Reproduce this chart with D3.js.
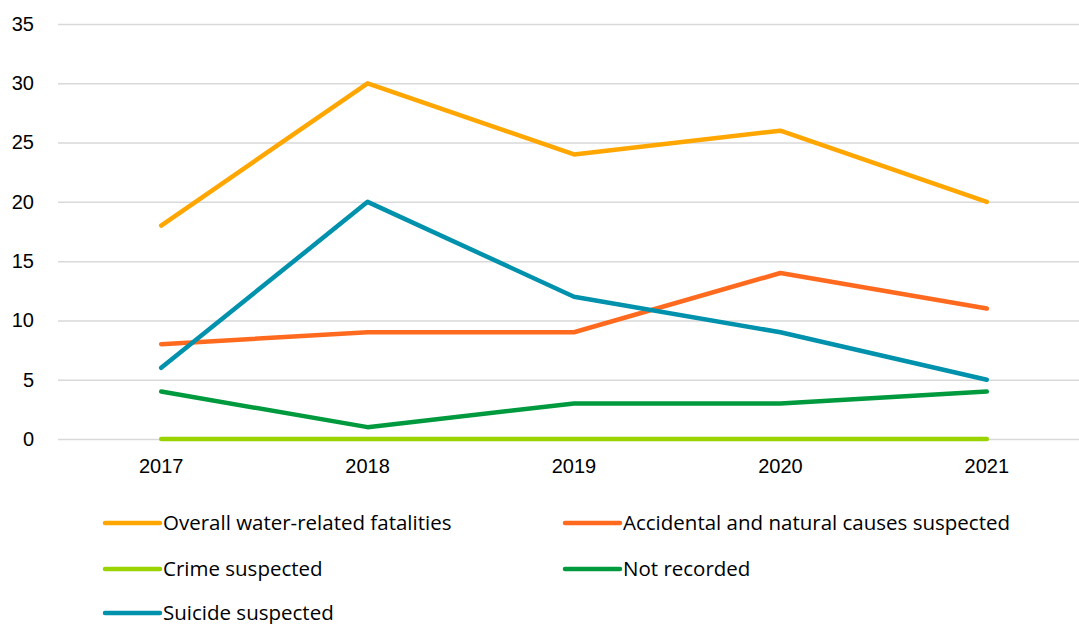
<!DOCTYPE html>
<html>
<head>
<meta charset="utf-8">
<script src="https://cdn.jsdelivr.net/npm/d3@7"></script>
<style>
  body { margin: 0; background: #fff; }
  svg { display: block; font-family: "Open Sans", "Liberation Sans", Arial, sans-serif; }
</style>
</head>
<body>
<script>
const years = ['2017', '2018', '2019', '2020', '2021'];
const overall = [18, 30, 24, 26, 20];
const accidental = [8, 9, 9, 14, 11];
const crime = [0, 0, 0, 0, 0];
const notRecorded = [4, 1, 3, 3, 4];
const suicide = [6, 20, 12, 9, 5];
const yTicks = [0, 5, 10, 15, 20, 25, 30, 35];

const series = [
  { name: 'Overall water-related fatalities', values: overall, color: '#FFA600' },
  { name: 'Accidental and natural causes suspected', values: accidental, color: '#FF6A1F' },
  { name: 'Crime suspected', values: crime, color: '#99D300' },
  { name: 'Not recorded', values: notRecorded, color: '#009A3E' },
  { name: 'Suicide suspected', values: suicide, color: '#0091AD' }
];

const w = 1079, h = 624;
const svg = d3.select('body').append('svg').attr('width', w).attr('height', h);

const x = d3.scaleBand().domain(years).range([58, 1090]);
const y = d3.scaleLinear().domain([0, 35]).range([439, 24]);

// gridlines + y labels
const yAxis = d3.axisLeft(y).tickValues(yTicks).tickSize(-(w - 58)).tickPadding(24);
svg.append('g').attr('transform', 'translate(58,0)').call(yAxis)
  .call(g => g.select('.domain').remove())
  .call(g => g.selectAll('line').attr('stroke', '#d9d9d9').attr('stroke-width', 1.5))
  .call(g => g.selectAll('text').attr('fill', '#000').style('font-size', '20px'));

// x labels
const xAxis = d3.axisBottom(x).tickSize(0).tickPadding(20);
svg.append('g').attr('transform', 'translate(0,439)').call(xAxis)
  .call(g => g.select('.domain').remove())
  .call(g => g.selectAll('text').attr('fill', '#000').style('font-size', '20px'));

const line = d3.line()
  .x((d, i) => x(years[i]) + x.bandwidth() / 2)
  .y(d => y(d));

svg.selectAll('path.series').data(series).enter().append('path')
  .attr('class', 'series')
  .attr('d', d => line(d.values))
  .attr('fill', 'none')
  .attr('stroke', d => d.color)
  .attr('stroke-width', 4.5)
  .attr('stroke-linecap', 'round')
  .attr('stroke-linejoin', 'round');

// legend
const legX = [103, 563];
const legY = [523, 569, 613];
const leg = svg.selectAll('g.leg').data(series).enter().append('g')
  .attr('class', 'leg')
  .attr('transform', (d, i) => `translate(${legX[i % 2]},${legY[Math.floor(i / 2)]})`);
leg.append('line')
  .attr('x1', 2).attr('x2', 57).attr('y1', 0).attr('y2', 0)
  .attr('stroke', d => d.color).attr('stroke-width', 4.5).attr('stroke-linecap', 'round');
leg.append('text')
  .attr('x', 60).attr('y', 0).attr('dy', '0.35em')
  .style('font-size', '20.5px').attr('fill', '#000')
  .text(d => d.name);
</script>
</body>
</html>
